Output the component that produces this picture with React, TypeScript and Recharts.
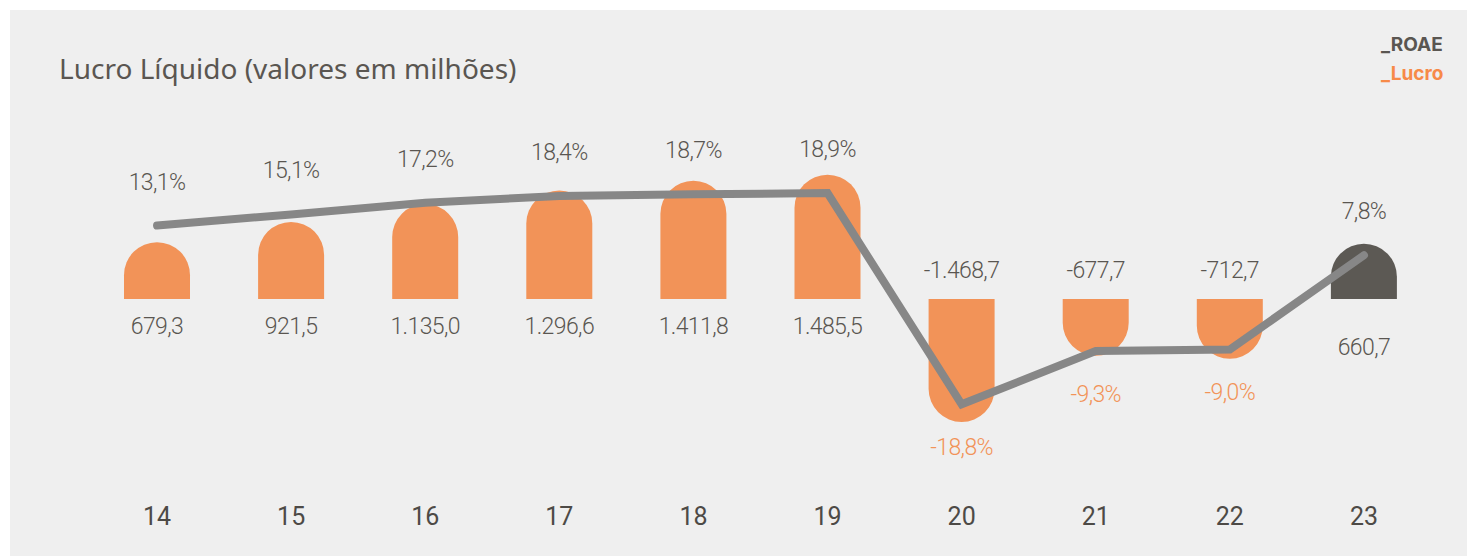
import React from "react";
import { ComposedChart, Bar, Line, XAxis, YAxis, Cell, LabelList } from "recharts";

const years = ["14", "15", "16", "17", "18", "19", "20", "21", "22", "23"];
const lucro = [679.3, 921.5, 1135.0, 1296.6, 1411.8, 1485.5, -1468.7, -677.7, -712.7, 660.7];
const roae = [13.1, 15.1, 17.2, 18.4, 18.7, 18.9, -18.8, -9.3, -9.0, 7.8];

const ORANGE = "#f29358";
const DARK = "#5c5954";
const TEXT = "#5a5651";
const LINE = "#878787";

const fmt = (v: number, digits = 1) => {
  const neg = v < 0;
  const [int, dec] = Math.abs(v).toFixed(digits).split(".");
  const grouped = int.replace(/\B(?=(\d{3})+(?!\d))/g, ".");
  return (neg ? "-" : "") + grouped + "," + dec;
};

const data = years.map((y, i) => ({ year: y, lucro: lucro[i], roae: roae[i] }));

const ArchBar = (props: any) => {
  const { x, y, width, height, fill } = props;
  if (!height) return null;
  const base = y + height;
  const h = Math.abs(height);
  const r = Math.min(width / 2, h);
  if (height > 0) {
    const top = y;
    return (
      <path
        d={`M${x},${base} L${x},${top + r} A${r},${r} 0 0 1 ${x + r},${top} L${x + width - r},${top} A${r},${r} 0 0 1 ${x + width},${top + r} L${x + width},${base} Z`}
        fill={fill}
      />
    );
  }
  const bottom = base + h;
  return (
    <path
      d={`M${x},${base} L${x},${bottom - r} A${r},${r} 0 0 0 ${x + r},${bottom} L${x + width - r},${bottom} A${r},${r} 0 0 0 ${x + width},${bottom - r} L${x + width},${base} Z`}
      fill={fill}
    />
  );
};

const labelFont = { fontSize: 23, fontFamily: "Roboto", fontWeight: 300, letterSpacing: -0.6 };

const BarValue = (props: any) => {
  const { x, y, width, height, value, index } = props;
  const base = y + height;
  let cy = value >= 0 ? base + 27 : base - 29;
  if (index === lucro.length - 1) cy = base + 48;
  return (
    <text x={x + width / 2} y={cy} dy="0.35em" textAnchor="middle" {...labelFont} fill={TEXT}>
      {fmt(value)}
    </text>
  );
};

const RoaeValue = (props: any) => {
  const { x, y, value } = props;
  const pos = value >= 0;
  return (
    <text x={x} y={pos ? y - 44 : y + 43} dy="0.35em" textAnchor="middle" {...labelFont} fill={pos ? TEXT : ORANGE}>
      {fmt(value) + "%"}
    </text>
  );
};

export default function App() {
  return (
    <div style={{ position: "absolute", left: 0, top: 0, width: 1467, height: 557, background: "#fff" }}>
      <div style={{ position: "absolute", left: 10, top: 10, width: 1457, height: 546, background: "#efefef" }} />
      <div style={{ position: "absolute", left: 59, top: 48, fontFamily: "'Noto Sans'", fontSize: 28, lineHeight: "40px", color: TEXT, whiteSpace: "nowrap" }}>
        Lucro Líquido (valores em milhões)
      </div>
      <div style={{ position: "absolute", left: 1381, top: 30, fontFamily: "Inter", fontWeight: 700, fontSize: 19, lineHeight: "29px" }}>
        <div style={{ color: TEXT }}>_ROAE</div>
        <div style={{ color: "#f78a48" }}>_Lucro</div>
      </div>
      <div style={{ position: "absolute", left: 0, top: 0 }}>
        <ComposedChart width={1467} height={557} data={data} margin={{ top: 99, right: 36, bottom: 28, left: 90 }}>
          <XAxis dataKey="year" tickLine={false} axisLine={false} tickMargin={2} tick={{ fontSize: 25, fill: "#4d4a46", fontFamily: "Roboto", fontWeight: 400 }} />
          <YAxis yAxisId="bar" hide domain={[-2390, 2390]} />
          <YAxis yAxisId="roae" hide orientation="right" domain={[-35.7, 35.7]} />
          <Bar yAxisId="bar" dataKey="lucro" barSize={66} shape={<ArchBar />} isAnimationActive={false}>
            {data.map((d, i) => (
              <Cell key={d.year} fill={i === data.length - 1 ? DARK : ORANGE} />
            ))}
            <LabelList dataKey="lucro" content={<BarValue />} />
          </Bar>
          <Line yAxisId="roae" dataKey="roae" type="linear" stroke={LINE} strokeWidth={8} strokeLinecap="round" dot={false} activeDot={false} isAnimationActive={false}>
            <LabelList dataKey="roae" content={<RoaeValue />} />
          </Line>
        </ComposedChart>
      </div>
    </div>
  );
}
